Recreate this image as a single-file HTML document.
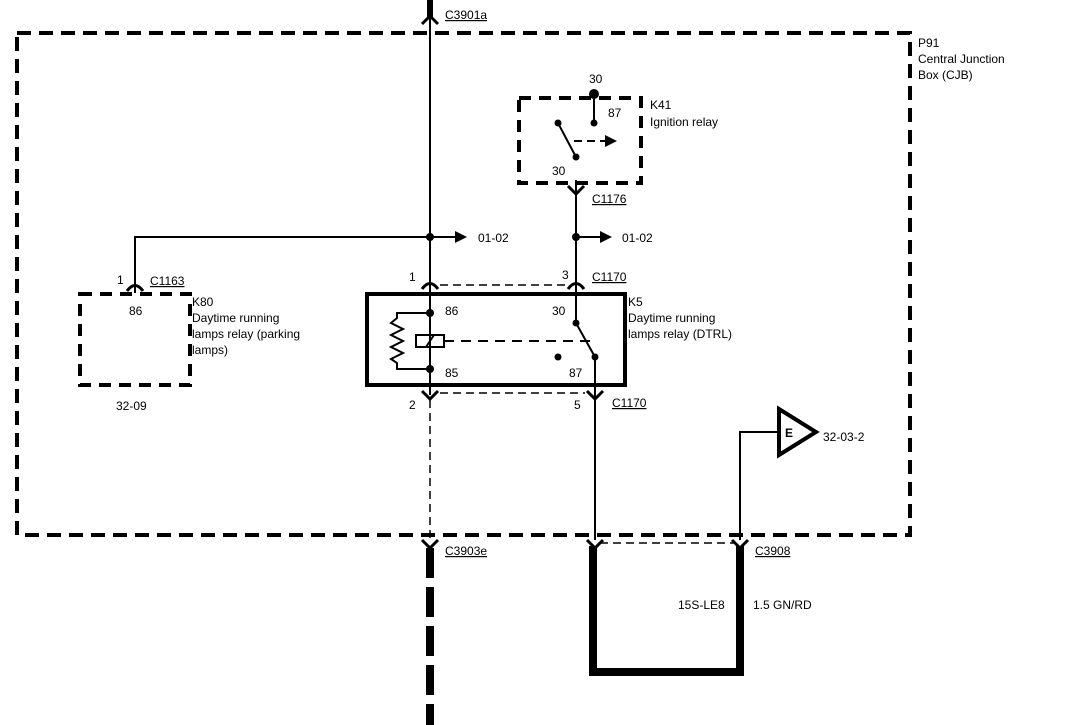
<!DOCTYPE html>
<html><head><style>body{margin:0;background:#fff}svg{display:block}text{font-family:"Liberation Sans",sans-serif;font-size:12px;fill:#000}</style></head><body>
<svg width="1088" height="725" viewBox="0 0 1088 725" xmlns="http://www.w3.org/2000/svg">
<g fill="none" stroke="#000">
<!-- outer box -->
<rect x="17" y="33" width="893" height="502" stroke-width="4" stroke-dasharray="14,8"/>
<!-- main vertical -->
<line x1="430" y1="0" x2="430" y2="18" stroke-width="6"/>
<line x1="430" y1="18" x2="430" y2="395" stroke-width="2"/>
<line x1="430" y1="400" x2="430" y2="540" stroke-width="1.5" stroke-dasharray="8,5"/>
<line x1="430" y1="548" x2="430" y2="725" stroke-width="8" stroke-dasharray="30,9"/>
<path d="M422,24 L430,16 L438,24" stroke-width="3"/>
<path d="M422,540 L430,548 L438,540" stroke-width="3"/>
<!-- branch to K80 -->
<path d="M430,237 H135 V293" stroke-width="2"/>
<path d="M127,291 Q135,280 143,291" stroke-width="3"/>
<line x1="430" y1="237" x2="455" y2="237" stroke-width="2"/>
<rect x="80" y="294" width="110" height="91" stroke-width="4" stroke-dasharray="12,8"/>
<!-- connectors row 285 -->
<path d="M422,289 Q430,278 438,289" stroke-width="3"/>
<path d="M568,289 Q576,278 584,289" stroke-width="3"/>
<line x1="440" y1="285" x2="566" y2="285" stroke-width="1.5" stroke-dasharray="8,5"/>
<!-- K5 -->
<rect x="367" y="294" width="258" height="91" stroke-width="4"/>
<path d="M430,313 H397 V318 L391,323 L403,329 L391,335 L403,341 L391,347 L403,353 L391,359 L397,363 V369 H430" stroke-width="2"/>
<rect x="416" y="335" width="28" height="12" stroke-width="2"/>
<line x1="426" y1="347" x2="434" y2="335" stroke-width="2"/>
<line x1="444" y1="341" x2="590" y2="341" stroke-width="2" stroke-dasharray="10,7"/>
<line x1="576" y1="180" x2="576" y2="323" stroke-width="2"/>
<line x1="576" y1="323" x2="595" y2="357" stroke-width="2"/>
<line x1="595" y1="357" x2="595" y2="540" stroke-width="2"/>
<!-- bottom connectors of K5 -->
<path d="M422,391 L430,399 L438,391" stroke-width="3"/>
<path d="M587,391 L595,399 L603,391" stroke-width="3"/>
<line x1="440" y1="393" x2="585" y2="393" stroke-width="1.5" stroke-dasharray="8,5"/>
<!-- K41 -->
<rect x="519" y="98" width="122" height="85" stroke-width="4" stroke-dasharray="12,8"/>
<line x1="594" y1="94" x2="594" y2="123" stroke-width="2"/>
<line x1="558" y1="123" x2="576" y2="157" stroke-width="2"/>
<line x1="574" y1="141" x2="605" y2="141" stroke-width="2" stroke-dasharray="8,5"/>
<path d="M568,186 L576,194 L584,186" stroke-width="3"/>
<line x1="576" y1="237" x2="600" y2="237" stroke-width="2"/>
<!-- E -->
<polygon points="779,409 779,455 816,432" stroke-width="4"/>
<path d="M779,432 H740 V540" stroke-width="2"/>
<path d="M587,540 L595,548 L603,540" stroke-width="3"/>
<path d="M732,540 L740,548 L748,540" stroke-width="3"/>
<line x1="600" y1="543" x2="735" y2="543" stroke-width="1.5" stroke-dasharray="8,5"/>
<path d="M593,546 V672 H740 V546" stroke-width="8"/>
</g>
<g fill="#000">
<polygon points="455,231 467,237 455,243"/>
<polygon points="600,231 612,237 600,243"/>
<polygon points="605,135 617,141 605,147"/>
<circle cx="430" cy="237" r="4"/><circle cx="576" cy="237" r="4"/>
<circle cx="430" cy="313" r="4"/><circle cx="430" cy="369" r="4"/>
<circle cx="576" cy="323" r="3.5"/><circle cx="595" cy="357" r="3.5"/><circle cx="558" cy="357" r="3.5"/>
<circle cx="594" cy="94" r="5"/><circle cx="594" cy="123" r="3.5"/>
<circle cx="558" cy="123" r="3.5"/><circle cx="576" cy="157" r="3.5"/>
</g>
<g text-decoration="underline">
<text x="445" y="19">C3901a</text>
<text x="150" y="285">C1163</text>
<text x="592" y="281">C1170</text>
<text x="612" y="407">C1170</text>
<text x="592" y="203">C1176</text>
<text x="445" y="555">C3903e</text>
<text x="755" y="555">C3908</text>
</g>
<text x="478" y="242">01-02</text>
<text x="622" y="242">01-02</text>
<text x="117" y="284">1</text>
<text x="129" y="315">86</text>
<text x="192" y="306">K80</text>
<text x="192" y="322">Daytime running</text>
<text x="192" y="338">lamps relay (parking</text>
<text x="192" y="354">lamps)</text>
<text x="116" y="410">32-09</text>
<text x="409" y="281">1</text>
<text x="562" y="279">3</text>
<text x="445" y="315">86</text>
<text x="445" y="377">85</text>
<text x="552" y="315">30</text>
<text x="569" y="377">87</text>
<text x="628" y="306">K5</text>
<text x="628" y="322">Daytime running</text>
<text x="628" y="338">lamps relay (DTRL)</text>
<text x="409" y="409">2</text>
<text x="574" y="409">5</text>
<text x="589" y="83">30</text>
<text x="608" y="117">87</text>
<text x="552" y="175">30</text>
<text x="650" y="109">K41</text>
<text x="650" y="126">Ignition relay</text>
<text x="918" y="47">P91</text>
<text x="918" y="63">Central Junction</text>
<text x="918" y="79">Box (CJB)</text>
<text x="785" y="437" font-weight="bold" font-size="14">E</text>
<text x="823" y="441">32-03-2</text>
<text x="678" y="609">15S-LE8</text>
<text x="753" y="609">1.5 GN/RD</text>
</svg>
</body></html>
